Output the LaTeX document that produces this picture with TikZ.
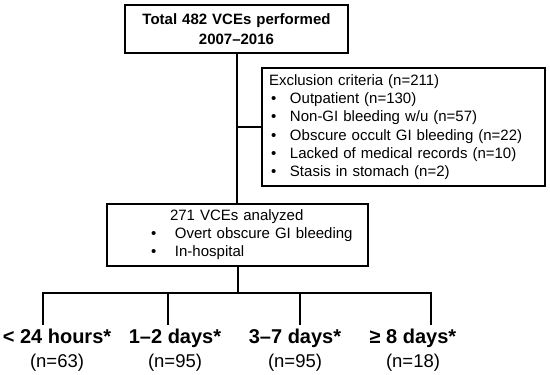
\documentclass[tikz,border=0pt]{standalone}
\usepackage{fontspec}
\setmainfont{Liberation Sans}
\usetikzlibrary{positioning}

\newcommand{\bul}[1][2pt]{\hspace*{#1}\makebox[19pt][l]{\textbullet}}

\tikzset{
  box/.style={draw, line width=2pt, inner sep=0pt, anchor=north west, align=left},
  link/.style={line width=2pt},
  timelbl/.style={font=\bfseries\fontsize{20}{24}\selectfont, anchor=base, inner sep=0pt},
  countlbl/.style={font=\fontsize{18.5}{22}\selectfont, anchor=base, inner sep=0pt}
}

\begin{document}
\begin{tikzpicture}[x=1pt, y=-1pt]
                \useasboundingbox (0,0) rectangle (550,375);

                \node[box, align=center, text width=223pt, minimum height=48pt, font=\bfseries\fontsize{15}{19.5}\selectfont] (total) at (124,4) {Total 482 VCEs performed\\2007–2016};
                \node[box, text width=269pt, inner xsep=7pt, minimum height=118pt, font=\fontsize{15}{18.3}\selectfont] (excl) at (261,67)
                    {Exclusion criteria (n=211)\\ \bul Outpatient (n=130)\\ \bul Non-GI bleeding w/u (n=57)\\ \bul Obscure occult GI bleeding (n=22)\\ \bul Lacked of medical records (n=10)\\ \bul Stasis in stomach (n=2)};
                \node[box, text width=253pt, inner xsep=4pt, minimum height=62pt, font=\fontsize{15}{18}\selectfont] (ana) at (106,203)
                    {\hspace*{59pt}271 VCEs analyzed\\ \bul[40pt] Overt obscure GI bleeding\\ \bul[40pt] In-hospital};

                \draw[link] (total.south) -- (total.south |- ana.north);
                \draw[link] (excl.west -| total.south) -- (excl.west);

                % Split par délai
                \draw[link] (ana.south) -- ++(0,26) coordinate (split);
                \foreach \i/\bx/\lx/\txt/\n in {1/43/57/{< 24 hours*}/63, 2/168/175/{1–2 days*}/95, 3/300/295/{3–7 days*}/95, 4/431/413/{≥ 8 days*}/18} {
                    \coordinate (b\i) at (\bx,325);
                    \draw[link] (b\i |- split) -- (b\i);
                    \node[timelbl] (t\i) at (\lx,343) {\txt};
                    \node[countlbl] (n\i) at (\lx,367) {(n=\n)};
                }
                \draw[link, line cap=rect] (b1 |- split) -- (b4 |- split);
            \end{tikzpicture}
\end{document}
